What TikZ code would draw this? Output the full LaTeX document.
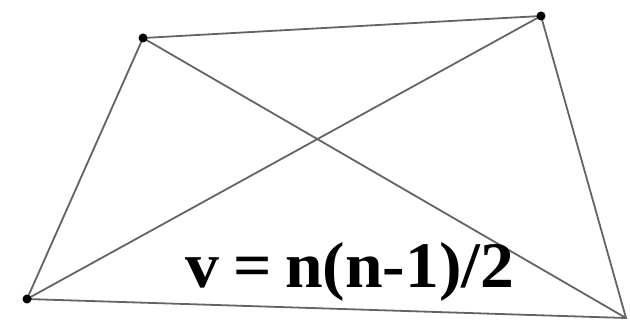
\documentclass[tikz,border=0pt]{standalone}
\usepackage{fontspec}
\setmainfont{Liberation Serif}
\usepackage{xcolor}
\usepackage{tikz}
\usetikzlibrary{calc}
\definecolor{edgegray}{RGB}{100, 100, 100}

\begin{document}
\begin{tikzpicture}[x=1pt,y=-1pt]
    \useasboundingbox (0,0) rectangle (630,321);
    % Vertices of the quadrilateral
    \coordinate (vtl) at (143,38);
    \coordinate (vtr) at (541,16);
    \coordinate (vbl) at (27,299);
    \coordinate (vbr) at (626,318);

    % Sides and diagonals
    \draw[edgegray,line width=1.8pt] (vtl) -- (vtr) -- (vbr) -- (vbl) -- cycle;
    \draw[edgegray,line width=1.8pt] (vtl) -- (vbr);
    \draw[edgegray,line width=1.8pt] (vtr) -- (vbl);

    % Vertex dots
    \foreach \v in {vtl,vtr,vbl}
        \fill[black] (\v) circle (4.5pt);

    % Formula
    \node[anchor=base,inner sep=0pt,font=\fontsize{65}{65}\selectfont\bfseries] (formula) at (350,287)
        {\scalebox{1.04}[1]{v\hspace{-0.05em} = \hspace{-0.05em}n(n-1)/2}};
\end{tikzpicture}
\end{document}
